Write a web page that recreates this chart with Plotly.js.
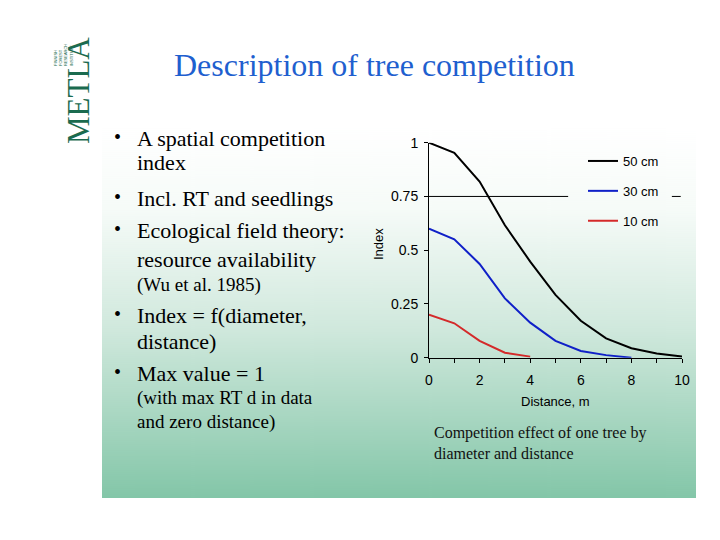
<!DOCTYPE html>
<html>
<head>
<meta charset="utf-8">
<script src="https://cdn.plot.ly/plotly-3.0.1.min.js"></script>
<style>html,body{margin:0;padding:0;background:#fff;}#chart{width:720px;height:540px;}</style>
</head>
<body>
<div id="chart"></div>
<script>
// ---- data ----
const distance = [0, 1, 2, 3, 4, 5, 6, 7, 8, 9, 10];
const idx50 = [1.0, 0.953, 0.819, 0.616, 0.447, 0.292, 0.172, 0.09, 0.044, 0.02, 0.005];
const distance30 = [0, 1, 2, 3, 4, 5, 6, 7, 8];
const idx30 = [0.6, 0.551, 0.436, 0.276, 0.163, 0.078, 0.031, 0.012, 0.0];
const distance10 = [0, 1, 2, 3, 4];
const idx10 = [0.2, 0.16, 0.078, 0.023, 0.005];
const seriesNames = ["50 cm", "30 cm", "10 cm"];
const yTickVals = [0, 0.25, 0.5, 0.75, 1];
const yTickText = ["0", "0.25", "0.5", "0.75", "1"];
const xTickVals = [0, 2, 4, 6, 8, 10];
const refLevel = 0.75;
const refEnd = 5.5;
const dashStart = 9.6, dashEnd = 9.95;

const titleText = "Description of tree competition";
const bullets = [
  {t: "A spatial competition", y: 138, b: true, s: 22},
  {t: "index", y: 162, b: false, s: 22},
  {t: "Incl. RT and seedlings", y: 198, b: true, s: 22},
  {t: "Ecological field theory:", y: 230, b: true, s: 22},
  {t: "resource availability", y: 259, b: false, s: 22},
  {t: "(Wu et al. 1985)", y: 285, b: false, s: 19},
  {t: "Index = f(diameter,", y: 315, b: true, s: 22},
  {t: "distance)", y: 341, b: false, s: 22},
  {t: "Max value = 1", y: 373, b: true, s: 22},
  {t: "(with max RT d in data", y: 398, b: false, s: 19},
  {t: "and zero distance)", y: 422, b: false, s: 19}
];
const caption = "Competition effect of one tree by<br>diameter and distance";

// ---- background gradient image ----
const cv = document.createElement('canvas');
cv.width = 10; cv.height = 370;
const cx = cv.getContext('2d');
const g = cx.createLinearGradient(0, 0, 0, 370);
g.addColorStop(0, '#ffffff');
g.addColorStop(0.22, '#f6fbf8');
g.addColorStop(0.55, '#cfe8dc');
g.addColorStop(1, '#83c6a8');
cx.fillStyle = g; cx.fillRect(0, 0, 10, 370);
const bgURL = cv.toDataURL();

const W = 720, H = 540;
const px = x => x / W;
const py = y => 1 - y / H;

const serif = "Liberation Serif, Times New Roman, serif";
const sans = "Liberation Sans, Arial, sans-serif";

const traces = [
  {x: distance, y: idx50, name: seriesNames[0], legendgroup: "a", mode: "lines", line: {color: "#000000", width: 2}},
  {x: distance30, y: idx30, name: seriesNames[1], legendgroup: "b", mode: "lines", line: {color: "#1020c8", width: 2}},
  {x: distance10, y: idx10, name: seriesNames[2], legendgroup: "c", mode: "lines", line: {color: "#d42a2a", width: 2}}
];

const annotations = [];
annotations.push({text: titleText, x: px(374), y: py(65), xref: "paper", yref: "paper", showarrow: false,
  xanchor: "center", yanchor: "middle", font: {family: serif, size: 32, color: "#1f5fcf"}});
bullets.forEach(b => {
  annotations.push({text: b.t, x: px(135), y: py(b.y), xref: "paper", yref: "paper", showarrow: false,
    xanchor: "left", yanchor: "middle", font: {family: serif, size: b.s, color: "#000"}});
  if (b.b) annotations.push({text: "•", x: px(117), y: py(b.y - 1), xref: "paper", yref: "paper", showarrow: false,
    xanchor: "center", yanchor: "middle", font: {family: serif, size: 20, color: "#000"}});
});
annotations.push({text: caption, x: px(432), y: py(443), xref: "paper", yref: "paper", showarrow: false,
  xanchor: "left", yanchor: "middle", align: "left", font: {family: serif, size: 16, color: "#111"}});
annotations.push({text: "METLA", x: px(78), y: py(91), xref: "paper", yref: "paper", showarrow: false,
  textangle: -90, xanchor: "center", yanchor: "middle", font: {family: serif, size: 31, color: "#1b6b4f"}});
annotations.push({text: "FINNISH<br>FOREST<br>RESEARCH<br>INSTITUTE", x: px(63), y: py(55), xref: "paper", yref: "paper", showarrow: false,
  textangle: -90, xanchor: "center", yanchor: "middle", align: "left", font: {family: sans, size: 4, color: "#1b6b4f"}});
annotations.push({text: "Index", x: px(378), y: py(244), xref: "paper", yref: "paper", showarrow: false,
  textangle: -90, xanchor: "center", yanchor: "middle", font: {family: sans, size: 13, color: "#000"}});
annotations.push({text: "Distance, m", x: px(555), y: py(401), xref: "paper", yref: "paper", showarrow: false,
  xanchor: "center", yanchor: "middle", font: {family: sans, size: 13, color: "#000"}});

const layout = {
  width: W, height: H,
  margin: {l: 0, r: 0, t: 0, b: 0},
  paper_bgcolor: "#ffffff",
  plot_bgcolor: "rgba(0,0,0,0)",
  showlegend: true,
  legend: {x: px(583), y: py(146), xanchor: "left", yanchor: "top", bgcolor: "rgba(0,0,0,0)",
    font: {family: sans, size: 13, color: "#000"}, traceorder: "grouped", tracegroupgap: 10, itemwidth: 30},
  images: [{source: bgURL, xref: "paper", yref: "paper", x: px(102), y: py(128), sizex: px(696) - px(102),
    sizey: (498 - 128) / H, sizing: "stretch", layer: "below", xanchor: "left", yanchor: "top"}],
  xaxis: {domain: [px(429), px(682)], range: [0, 10], tickvals: xTickVals, ticks: "outside", ticklen: 4,
    tickcolor: "#000", showline: true, linecolor: "#000", linewidth: 1, showgrid: false, zeroline: false,
    tickfont: {family: sans, size: 14, color: "#000"}, fixedrange: true, ticklabelstandoff: 5,
    minor: {dtick: 1, ticks: "outside", ticklen: 4, tickcolor: "#000", showgrid: false}},
  yaxis: {domain: [py(357.7), py(142.7)], range: [0, 1], tickvals: yTickVals, ticktext: yTickText, ticks: "outside",
    ticklen: 4, tickcolor: "#000", showline: true, linecolor: "#000", linewidth: 1, showgrid: false, zeroline: false,
    tickfont: {family: sans, size: 14, color: "#000"}, fixedrange: true, ticklabelstandoff: 3},
  shapes: [
    {type: "line", xref: "x", yref: "y", x0: 0, x1: refEnd, y0: refLevel, y1: refLevel, line: {color: "#000", width: 1}, layer: "below"},
    {type: "line", xref: "x", yref: "y", x0: dashStart, x1: dashEnd, y0: refLevel, y1: refLevel, line: {color: "#000", width: 1}}
  ],
  annotations: annotations
};

Plotly.newPlot("chart", traces, layout, {displayModeBar: false, staticPlot: true});
</script>
</body>
</html>
